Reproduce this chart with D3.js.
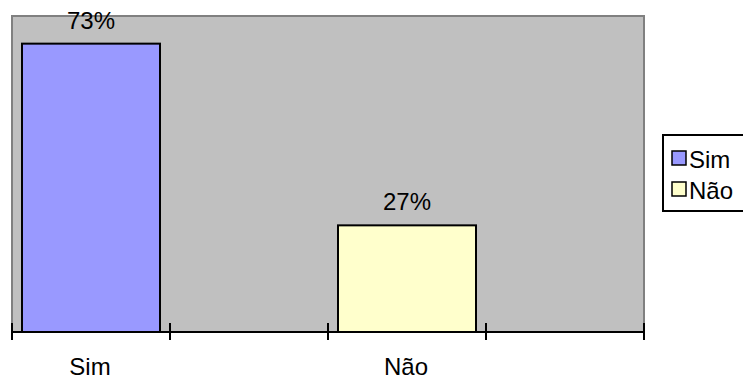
<!DOCTYPE html>
<html>
<head>
<meta charset="utf-8">
<script src="https://cdn.jsdelivr.net/npm/d3@7"></script>
<style>
  html, body { margin: 0; padding: 0; background: #ffffff; }
  svg { display: block; font-family: "Liberation Sans", Arial, sans-serif; }
</style>
</head>
<body>
<svg id="chart" width="743" height="381"></svg>
<script>
// Survey answers: share of respondents (%)
const categories = ["Sim", "", "Não", ""];
const values = [73, null, 27, null];
const seriesNames = ["Sim", "Não"];
const seriesColors = ["#9999FF", "#FFFFCC"];
const yMax = 80;

const svg = d3.select("#chart");
const plot = { left: 12, right: 644, top: 16, bottom: 332 };

const x = d3.scaleBand()
  .domain(d3.range(categories.length))
  .range([plot.left, plot.right])
  .paddingInner(0).paddingOuter(0);

const y = d3.scaleLinear()
  .domain([0, yMax])
  .range([plot.bottom, plot.top]);

// plot area background
svg.append("rect")
  .attr("x", plot.left).attr("y", plot.top)
  .attr("width", plot.right - plot.left)
  .attr("height", plot.bottom - plot.top)
  .attr("fill", "#C0C0C0")
  .attr("stroke", "#808080")
  .attr("stroke-width", 2);

// bars
const barRatio = 138 / 158;
const bars = values.map((v, i) => ({ v, i })).filter(d => d.v != null);
const colorOf = i => seriesColors[seriesNames.indexOf(categories[i])];

svg.selectAll("rect.bar")
  .data(bars)
  .enter().append("rect")
  .attr("class", "bar")
  .attr("x", d => x(d.i) + (x.bandwidth() * (1 - barRatio)) / 2)
  .attr("width", x.bandwidth() * barRatio)
  .attr("y", d => y(d.v))
  .attr("height", d => y(0) - y(d.v))
  .attr("fill", d => colorOf(d.i))
  .attr("stroke", "#000")
  .attr("stroke-width", 2);

// value labels
svg.selectAll("text.val")
  .data(bars)
  .enter().append("text")
  .attr("class", "val")
  .attr("x", d => x(d.i) + x.bandwidth() / 2)
  .attr("y", d => y(d.v) - 15)
  .attr("text-anchor", "middle")
  .attr("font-size", 24)
  .attr("fill", "#000")
  .text(d => d.v + "%");

// category axis with ticks between categories
const axisG = svg.append("g");
axisG.append("line")
  .attr("x1", plot.left).attr("x2", plot.right)
  .attr("y1", plot.bottom).attr("y2", plot.bottom)
  .attr("stroke", "#000").attr("stroke-width", 2);

const tickPos = d3.range(categories.length + 1).map(i =>
  i < categories.length ? x(i) : x(categories.length - 1) + x.bandwidth());
axisG.selectAll("line.tick")
  .data(tickPos)
  .enter().append("line")
  .attr("class", "tick")
  .attr("x1", d => d).attr("x2", d => d)
  .attr("y1", plot.bottom - 9).attr("y2", plot.bottom + 8)
  .attr("stroke", "#000").attr("stroke-width", 2);

axisG.selectAll("text.cat")
  .data(categories)
  .enter().append("text")
  .attr("class", "cat")
  .attr("x", (d, i) => x(i) + x.bandwidth() / 2 - 1)
  .attr("y", 375)
  .attr("text-anchor", "middle")
  .attr("font-size", 24)
  .attr("fill", "#000")
  .text(d => d);

// legend
const legend = svg.append("g").attr("transform", "translate(663,135)");
legend.append("rect")
  .attr("x", 0).attr("y", 0)
  .attr("width", 100).attr("height", 76)
  .attr("fill", "#fff")
  .attr("stroke", "#000").attr("stroke-width", 2);

const rows = legend.selectAll("g.row")
  .data(seriesNames)
  .enter().append("g")
  .attr("class", "row")
  .attr("transform", (d, i) => `translate(9,${24 + i * 31})`);

rows.append("rect")
  .attr("x", 0).attr("y", -8)
  .attr("width", 14).attr("height", 14)
  .attr("fill", (d, i) => seriesColors[i])
  .attr("stroke", "#000").attr("stroke-width", 1.5);

rows.append("text")
  .attr("x", 17).attr("y", 9)
  .attr("font-size", 24)
  .attr("fill", "#000")
  .text(d => d);
</script>
</body>
</html>
